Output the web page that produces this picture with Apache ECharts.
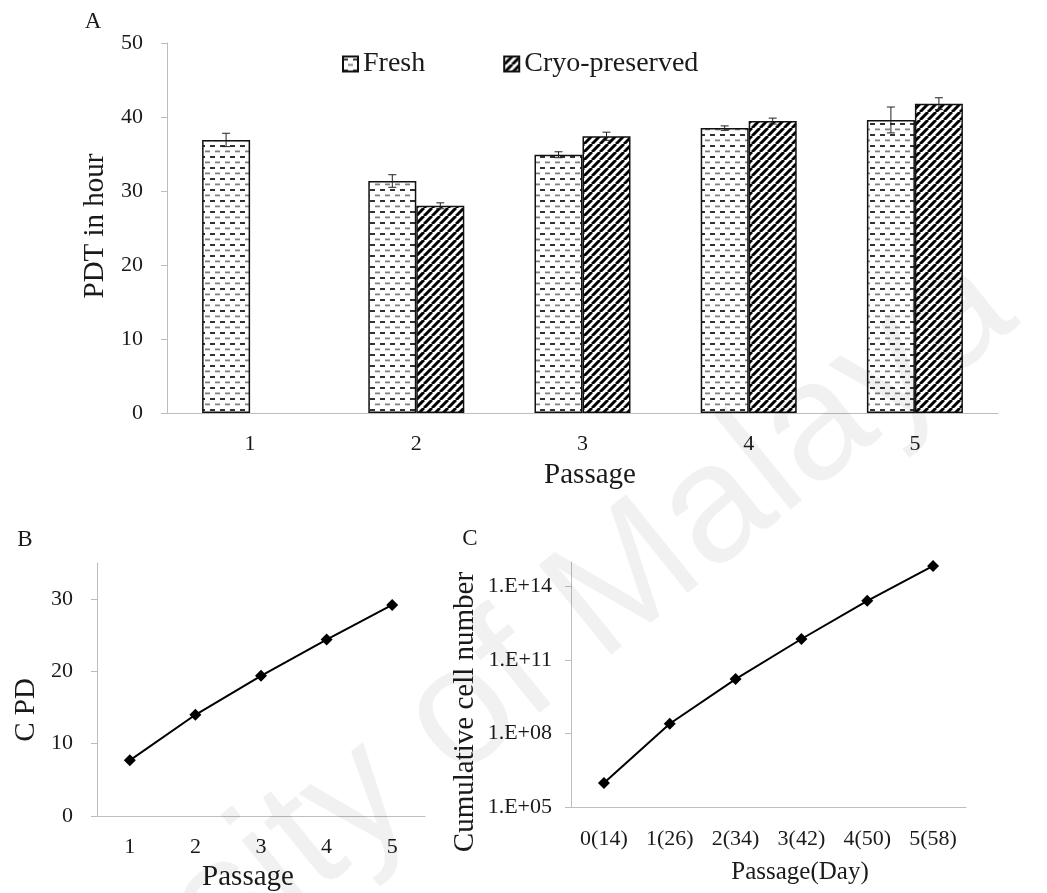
<!DOCTYPE html>
<html>
<head>
<meta charset="utf-8">
<script src="https://cdn.jsdelivr.net/npm/echarts@6/dist/echarts.min.js"></script>
<style>
html,body{margin:0;padding:0;background:#fff;}
#main{width:1047px;height:893px;}
</style>
</head>
<body>
<div id="main"></div>
<script>
// ---------- data ----------
var passagesA = ['1', '2', '3', '4', '5'];
var freshPDT = [36.9, 31.35, 34.9, 38.5, 39.6];
var freshErr = [0.9, 0.85, 0.4, 0.3, 1.75];
var cryoPDT = [null, 28.0, 37.4, 39.45, 41.8];
var cryoErr = [null, 0.4, 0.55, 0.4, 0.8];

var passagesB = ['1', '2', '3', '4', '5'];
var cpd = [7.7, 14.0, 19.4, 24.4, 29.2];

var passagesC = ['0(14)', '1(26)', '2(34)', '3(42)', '4(50)', '5(58)'];
var cumCells = [9.6e5, 2.5e8, 1.66e10, 7.2e11, 2.6e13, 6.9e14];
var logTicksC = [1e5, 1e8, 1e11, 1e14];

// ---------- patterns ----------
function dashPattern() {
  var c = document.createElement('canvas');
  c.width = 10; c.height = 11;
  var g = c.getContext('2d');
  g.fillStyle = '#fff'; g.fillRect(0, 0, 10, 11);
  g.fillStyle = '#333'; g.fillRect(0, 2, 5, 2);
  g.fillStyle = '#808080'; g.fillRect(5, 7.5, 5, 1.8);
  return c;
}
function hatchPattern() {
  var c = document.createElement('canvas');
  c.width = 8; c.height = 8;
  var g = c.getContext('2d');
  g.fillStyle = '#fff'; g.fillRect(0, 0, 8, 8);
  g.strokeStyle = '#000'; g.lineWidth = 3;
  for (var k = -8; k <= 8; k += 8) {
    g.beginPath(); g.moveTo(k, 8); g.lineTo(k + 8, 0); g.stroke();
  }
  return c;
}

var FONT = 'Liberation Serif';
var AXC = '#bdbdbd';
var TXT = '#1a1a1a';

function errData(vals, errs) {
  var out = [];
  for (var i = 0; i < vals.length; i++) {
    if (vals[i] != null) out.push([i, vals[i], errs[i]]);
  }
  return out;
}
function errRender(offset) {
  return function (params, api) {
    var x = api.value(0), v = api.value(1), e = api.value(2);
    var top = api.coord([x, v + e]);
    var bot = api.coord([x, v - e]);
    var cx = top[0] + offset;
    var cap = 4;
    var st = {stroke: '#222', lineWidth: 1};
    return {
      type: 'group',
      children: [
        {type: 'line', shape: {x1: cx, y1: top[1], x2: cx, y2: bot[1]}, style: st},
        {type: 'line', shape: {x1: cx - cap, y1: top[1], x2: cx + cap, y2: top[1]}, style: st},
        {type: 'line', shape: {x1: cx - cap, y1: bot[1], x2: cx + cap, y2: bot[1]}, style: st}
      ]
    };
  };
}

var axisLabelStyle = {color: TXT, fontFamily: FONT, fontSize: 22};
function txt(text, x, y, size, rot) {
  return {
    type: 'text', x: x, y: y, rotation: rot || 0, z: 10,
    style: {text: text, fontFamily: FONT, fontSize: size, fill: TXT, align: 'center', verticalAlign: 'middle'}
  };
}

var chart = echarts.init(document.getElementById('main'), null, {renderer: 'canvas'});
var option = {
  backgroundColor: '#fff',
  animation: false,
  legend: {
    data: ['Fresh', 'Cryo-preserved'],
    left: 337, top: 45,
    itemWidth: 15, itemHeight: 15, itemGap: 78,
    icon: 'rect',
    textStyle: {fontFamily: FONT, fontSize: 28, color: TXT}
  },
  graphic: [
    txt('A', 93, 22, 23),
    txt('B', 25, 540, 23),
    txt('C', 470, 539, 23),
    txt('PDT in hour', 95, 226, 29, Math.PI / 2),
    txt('Passage', 590, 475, 29),
    txt('C PD', 26, 710, 29, Math.PI / 2),
    txt('Passage', 248, 877, 29),
    txt('Cumulative cell number', 465, 712, 29, Math.PI / 2),
    txt('Passage(Day)', 800, 872, 25),
    {
      type: 'text', x: 1045, y: 352, rotation: 39 * Math.PI / 180, z: 100, silent: true,
      style: {text: 'University of Malaya', fontFamily: 'Liberation Sans', fontSize: 168,
              fill: 'rgba(0,0,0,0.055)', align: 'right', verticalAlign: 'bottom'}
    }
  ],
  grid: [
    {left: 167, top: 43, width: 831, height: 370},
    {left: 97, top: 563, width: 328, height: 253},
    {left: 571, top: 562, width: 395, height: 245}
  ],
  xAxis: [
    {gridIndex: 0, type: 'category', data: passagesA,
     axisLine: {lineStyle: {color: AXC}}, axisTick: {length: 7, lineStyle: {color: AXC}},
     axisLabel: Object.assign({margin: 20}, axisLabelStyle)},
    {gridIndex: 1, type: 'category', data: passagesB,
     axisLine: {lineStyle: {color: AXC}}, axisTick: {length: 7, lineStyle: {color: AXC}},
     axisLabel: Object.assign({margin: 20}, axisLabelStyle)},
    {gridIndex: 2, type: 'category', data: passagesC,
     axisLine: {lineStyle: {color: AXC}}, axisTick: {length: 7, lineStyle: {color: AXC}},
     axisLabel: Object.assign({margin: 21}, axisLabelStyle)}
  ],
  yAxis: [
    {gridIndex: 0, type: 'value', min: 0, max: 50, interval: 10,
     axisLine: {show: true, lineStyle: {color: AXC}}, axisTick: {show: true, length: 6, lineStyle: {color: AXC}},
     splitLine: {show: false},
     axisLabel: Object.assign({margin: 24}, axisLabelStyle)},
    {gridIndex: 1, type: 'value', min: 0, max: 35, interval: 5,
     axisLine: {show: true, lineStyle: {color: AXC}},
     axisTick: {show: true, length: 6, lineStyle: {color: AXC}, customValues: [0, 10, 20, 30]},
     splitLine: {show: false},
     axisLabel: Object.assign({margin: 24, customValues: [0, 10, 20, 30]}, axisLabelStyle)},
    {gridIndex: 2, type: 'log', logBase: 10, min: 1e5, max: 1e15,
     axisLine: {show: true, lineStyle: {color: AXC}},
     axisTick: {show: true, length: 6, lineStyle: {color: AXC}, customValues: logTicksC},
     splitLine: {show: false}, minorTick: {show: false},
     axisLabel: Object.assign({margin: 19, customValues: logTicksC, formatter: function (v) {
       var e = Math.round(Math.log10(v));
       return '1.E+' + (e < 10 ? '0' + e : '' + e);
     }}, axisLabelStyle)}
  ],
  series: [
    {name: 'Fresh', type: 'bar', xAxisIndex: 0, yAxisIndex: 0, data: freshPDT,
     barWidth: 48, barGap: '0%',
     itemStyle: {color: {image: dashPattern(), repeat: 'repeat'}, borderColor: '#111', borderWidth: 1.5}},
    {name: 'Cryo-preserved', type: 'bar', xAxisIndex: 0, yAxisIndex: 0, data: cryoPDT,
     barWidth: 48, barGap: '0%',
     itemStyle: {color: {image: hatchPattern(), repeat: 'repeat'}, borderColor: '#111', borderWidth: 1.5}},
    {type: 'custom', xAxisIndex: 0, yAxisIndex: 0, z: 5, renderItem: errRender(-24),
     data: errData(freshPDT, freshErr), encode: {x: 0, y: 1}, silent: true},
    {type: 'custom', xAxisIndex: 0, yAxisIndex: 0, z: 5, renderItem: errRender(24),
     data: errData(cryoPDT, cryoErr), encode: {x: 0, y: 1}, silent: true},
    {type: 'line', xAxisIndex: 1, yAxisIndex: 1, data: cpd,
     symbol: 'diamond', symbolSize: 12,
     lineStyle: {color: '#000', width: 2}, itemStyle: {color: '#000'}},
    {type: 'line', xAxisIndex: 2, yAxisIndex: 2, data: cumCells,
     symbol: 'diamond', symbolSize: 12,
     lineStyle: {color: '#000', width: 2}, itemStyle: {color: '#000'}}
  ]
};
chart.setOption(option);
</script>
</body>
</html>
